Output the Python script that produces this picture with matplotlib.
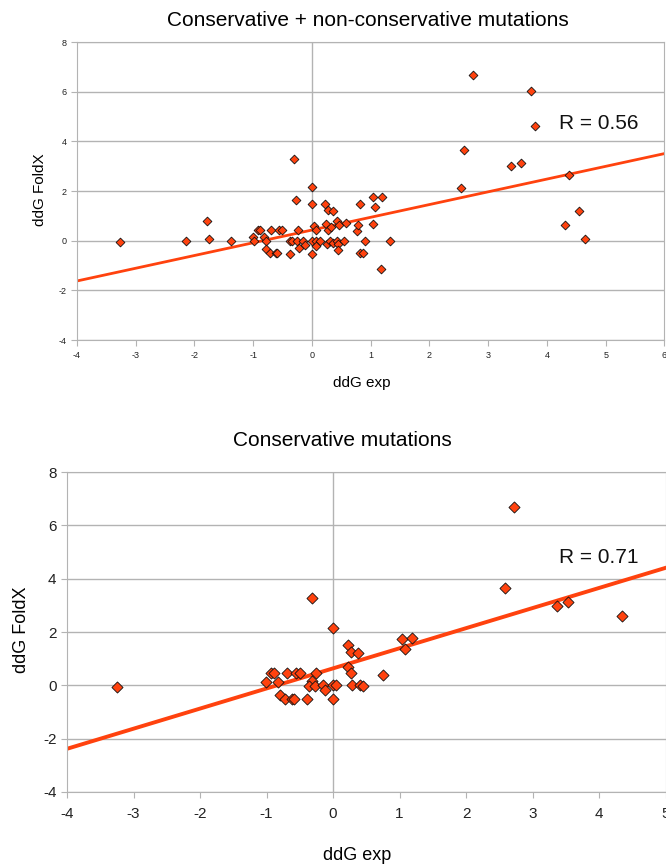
import matplotlib
matplotlib.use("Agg")
import matplotlib.pyplot as plt
import numpy as np

plt.rcParams['font.family'] = ['Liberation Sans Narrow', 'Liberation Sans', 'DejaVu Sans']
plt.rcParams['axes.unicode_minus'] = False

# conservative + non-conservative mutations
all_x = [-3.26, -2.14, -1.78, -1.76, -1.37, -1.01, -0.98, -0.92, -0.89, -0.81,
         -0.79, -0.78, -0.71, -0.61, -0.60, -0.69, -0.56, -0.51, -0.37, -0.37,
         -0.34, -0.31, -0.28, -0.23, -0.26, -0.22, -0.15, -0.12, 0.00, 0.00,
         0.00, 0.07, 0.14, 0.04, 0.07, 0.07, 0.00, 0.23, 0.28, 0.36,
         0.24, 0.28, 0.32, 0.42, 0.46, 0.25, 0.31, 0.36, 0.42, 0.45,
         0.44, 0.54, 0.58, 0.76, 0.79, 0.82, 0.81, 0.86, 0.90, 1.04,
         1.20, 1.07, 1.04, 1.32, 1.17, 2.54, 2.59, 2.74, 3.38, 3.56,
         3.72, 3.79, 4.37, 4.54, 4.31, 4.65]
all_y = [-0.07, 0.00, 0.79, 0.05, 0.00, 0.13, -0.02, 0.42, 0.42, 0.13,
         0.00, -0.34, -0.48, -0.49, -0.49, 0.42, 0.42, 0.42, -0.52, 0.00,
         0.00, 3.27, 1.63, 0.42, 0.00, -0.29, 0.00, -0.18, 2.17, 1.47,
         0.00, 0.00, 0.00, 0.58, 0.42, -0.22, -0.53, 1.48, 1.25, 1.21,
         0.69, 0.42, 0.56, 0.79, 0.65, -0.15, 0.00, -0.11, 0.00, -0.14,
         -0.37, 0.00, 0.72, 0.38, 0.62, 1.48, -0.49, -0.49, 0.00, 1.74,
         1.76, 1.34, 0.69, -0.02, -1.12, 2.13, 3.66, 6.69, 2.99, 3.12,
         6.01, 4.60, 2.63, 1.19, 0.64, 0.05]
all_fit = (0.513, 0.43)   # slope, intercept of the trend line
all_r = "R = 0.56"

# conservative mutations only
cons_x = [-3.25, -1.01, -0.94, -0.89, -0.82, -0.80, -0.72, -0.62, -0.59, -0.685,
          -0.55, -0.50, -0.39, -0.32, -0.36, -0.27, -0.25, -0.31, -0.15, -0.12,
          0.00, 0.05, 0.00, 0.00, 0.225, 0.27, 0.38, 0.23, 0.27, 0.29,
          0.40, 0.45, 0.75, 1.03, 1.19, 1.08, 2.58, 2.72, 3.37, 3.54, 4.35]
cons_y = [-0.08, 0.12, 0.45, 0.45, 0.12, -0.35, -0.50, -0.50, -0.50, 0.45,
          0.45, 0.45, -0.50, 0.17, -0.03, -0.03, 0.45, 3.27, 0.00, -0.18,
          0.00, 0.00, -0.52, 2.15, 1.50, 1.25, 1.22, 0.67, 0.45, 0.00,
          0.00, -0.01, 0.39, 1.74, 1.77, 1.36, 3.66, 6.67, 2.97, 3.12, 2.61]
cons_fit = (0.754, 0.636)
cons_r = "R = 0.71"

orange = '#ff420e'
grey = '#b3b3b3'

fig = plt.figure(figsize=(6.66, 8.65), dpi=100)


def panel(rect, xs, ys, fit, rtext, rpos, xlim, msize, tsize, lw, pad):
    ax = fig.add_axes(rect)
    ax.set_xlim(*xlim)
    ax.set_ylim(-4, 8)
    ax.set_xticks(np.arange(xlim[0], xlim[1] + 1, 1))
    ax.set_yticks(np.arange(-4, 9, 2))
    ax.grid(axis='y', color=grey, lw=1)
    ax.axvline(0, color=grey, lw=1, zorder=1)
    for s in ax.spines.values():
        s.set_color(grey)
    ax.tick_params(colors=grey, labelcolor='#222222', labelsize=tsize, length=4)
    ax.tick_params(axis='x', pad=pad)
    ax.set_axisbelow(True)
    lx = np.array(xlim, dtype=float)
    ax.plot(lx, fit[0] * lx + fit[1], color=orange, lw=lw, zorder=2)
    ax.scatter(xs, ys, marker='D', s=msize, color=orange, edgecolor='#111111',
               linewidths=0.6, zorder=3)
    ax.text(rpos[0], rpos[1], rtext, fontsize=15, va='center', color='#111111')
    return ax


panel([0.1156, 0.6069, 0.8821, 0.3445], all_x, all_y, all_fit, all_r, (4.2, 4.73),
      (-4, 6), 20, 6.5, 2.0, 4)
panel([0.1006, 0.0844, 0.8987, 0.3699], cons_x, cons_y, cons_fit, cons_r, (3.4, 4.8),
      (-4, 5), 32, 11, 2.8, 7)

fig.text(368 / 666, 1 - 20 / 865, "Conservative + non-conservative mutations",
         fontsize=15, ha='center', va='center')
fig.text(40 / 666, 1 - 190 / 865, "ddG FoldX", fontsize=11, rotation=90,
         ha='center', va='center')
fig.text(362 / 666, 1 - 383 / 865, "ddG exp", fontsize=11, ha='center', va='center')

fig.text(342 / 666, 1 - 440 / 865, "Conservative mutations",
         fontsize=15, ha='center', va='center')
fig.text(22 / 666, 1 - 630 / 865, "ddG FoldX", fontsize=13, rotation=90,
         ha='center', va='center')
fig.text(357 / 666, 1 - 855 / 865, "ddG exp", fontsize=13, ha='center', va='center')

plt.savefig('out.png', dpi=100)
